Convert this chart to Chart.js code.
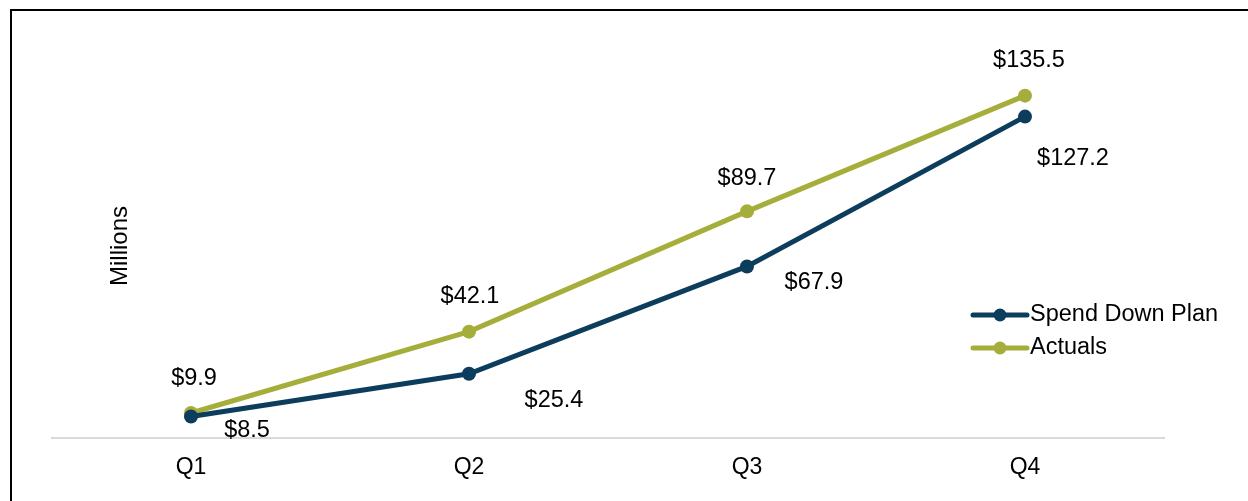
<!DOCTYPE html>
<html>
<head>
<meta charset="utf-8">
<script src="https://cdn.jsdelivr.net/npm/chart.js@4.4.1/dist/chart.umd.min.js"></script>
<style>
  html, body { margin: 0; padding: 0; background: #ffffff; }
  #wrap { position: relative; width: 1248px; height: 501px; overflow: hidden; }
  #frame { position: absolute; left: 10px; top: 9px; width: 1400px; height: 700px;
           border-top: 2px solid #000; border-left: 2px solid #000; pointer-events: none; }
  canvas { position: absolute; left: 0; top: 0; }
</style>
</head>
<body>
<div id="wrap">
  <canvas id="c" width="1248" height="501"></canvas>
  <div id="frame"></div>
</div>
<script>
const categories = ["Q1", "Q2", "Q3", "Q4"];
const planValues = [8.5, 25.4, 67.9, 127.2];
const actualValues = [9.9, 42.1, 89.7, 135.5];
const seriesNames = ["Spend Down Plan", "Actuals"];
const yAxisTitle = "Millions";

const PLAN_COLOR = "#0d3d5c";
const ACT_COLOR = "#a6ae3b";
const FONT = '"Liberation Sans", Arial, sans-serif';

// label offsets relative to the point (styles only)
const planLabelOffsets = [[56, 14], [85, 27], [67, 16], [48, 42]];
const actLabelOffsets = [[3, -34], [1, -35], [0, -33], [4, -35]];

const labelPlugin = {
  id: 'valueLabels',
  afterDatasetsDraw(chart) {
    const ctx = chart.ctx;
    ctx.save();
    ctx.font = '23.5px ' + FONT;
    ctx.fillStyle = '#000';
    ctx.textAlign = 'center';
    ctx.textBaseline = 'middle';
    chart.data.datasets.forEach((ds, i) => {
      const meta = chart.getDatasetMeta(i);
      const offs = ds.labelOffsets;
      meta.data.forEach((pt, j) => {
        const v = ds.data[j];
        ctx.fillText('$' + v.toFixed(1), pt.x + offs[j][0], pt.y + offs[j][1]);
      });
    });
    ctx.restore();
  }
};

const legendPlugin = {
  id: 'lineLegend',
  afterDraw(chart) {
    const ctx = chart.ctx;
    ctx.save();
    ctx.font = '23.5px ' + FONT;
    ctx.textBaseline = 'middle';
    ctx.textAlign = 'left';
    const x0 = 973, x1 = 1027, ys = [315, 348];
    chart.data.datasets.forEach((ds, i) => {
      const y = ys[i];
      ctx.strokeStyle = ds.borderColor;
      ctx.lineWidth = 5;
      ctx.lineCap = 'round';
      ctx.beginPath(); ctx.moveTo(x0, y); ctx.lineTo(x1, y); ctx.stroke();
      ctx.fillStyle = ds.borderColor;
      ctx.beginPath(); ctx.arc((x0 + x1) / 2, y, 6.5, 0, Math.PI * 2); ctx.fill();
      ctx.fillStyle = '#000';
      ctx.fillText(ds.label, x1 + 3, y);
    });
    ctx.restore();
  }
};

const titlePlugin = {
  id: 'yTitle',
  afterDraw(chart) {
    const ctx = chart.ctx;
    ctx.save();
    ctx.font = '24px ' + FONT;
    ctx.fillStyle = '#000';
    ctx.textAlign = 'center';
    ctx.textBaseline = 'middle';
    ctx.translate(120, 246);
    ctx.rotate(-Math.PI / 2);
    ctx.fillText(yAxisTitle, 0, 0);
    ctx.restore();
  }
};

new Chart(document.getElementById('c'), {
  type: 'line',
  data: {
    labels: categories,
    datasets: [
      { label: seriesNames[0], data: planValues, borderColor: PLAN_COLOR, backgroundColor: PLAN_COLOR,
        borderWidth: 5, pointRadius: 7, pointHoverRadius: 7, pointBackgroundColor: PLAN_COLOR,
        pointBorderWidth: 0, tension: 0, labelOffsets: planLabelOffsets },
      { label: seriesNames[1], data: actualValues, borderColor: ACT_COLOR, backgroundColor: ACT_COLOR,
        borderWidth: 5, pointRadius: 7, pointHoverRadius: 7, pointBackgroundColor: ACT_COLOR,
        pointBorderWidth: 0, tension: 0, labelOffsets: actLabelOffsets }
    ]
  },
  options: {
    responsive: false,
    animation: false,
    events: [],
    layout: { padding: { left: 52, right: 84, top: 59, bottom: 0 } },
    plugins: { legend: { display: false }, tooltip: { enabled: false } },
    scales: {
      x: {
        offset: true,
        grid: { display: false, drawTicks: false },
        border: { display: true, color: '#d9d9d9', width: 2 },
        ticks: { color: '#000', font: { size: 23, family: FONT }, padding: 16 },
        afterFit(scale) { scale.height = 63; }
      },
      y: {
        display: false,
        min: 0, max: 150
      }
    }
  },
  plugins: [labelPlugin, legendPlugin, titlePlugin]
});
</script>
</body>
</html>
